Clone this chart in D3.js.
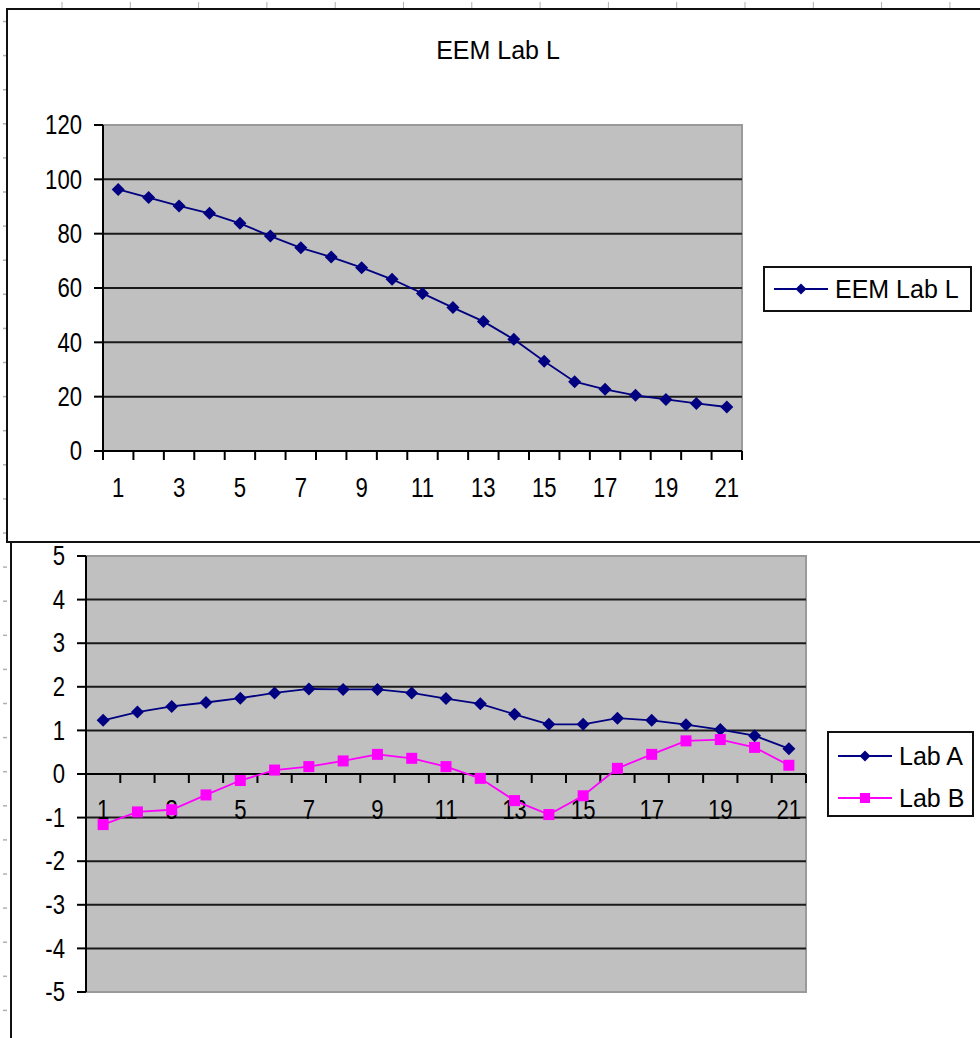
<!DOCTYPE html>
<html>
<head>
<meta charset="utf-8">
<script src="https://cdn.jsdelivr.net/npm/d3@7"></script>
<style>
  body { margin: 0; background: #fff; }
  svg { display: block; }
  text { font-family: "Liberation Sans", Arial, sans-serif; fill: #000; }
</style>
</head>
<body>
<svg id="chart" width="980" height="1038"></svg>
<script>
// --- data ---
const categories = [1, 2, 3, 4, 5, 6, 7, 8, 9, 10, 11, 12, 13, 14, 15, 16, 17, 18, 19, 20, 21];
const xTickLabels = [1, 3, 5, 7, 9, 11, 13, 15, 17, 19, 21];
const eemLabL = [96.3, 93.3, 90.2, 87.5, 83.8, 79.1, 74.8, 71.4, 67.5, 63.2, 58.0, 52.8, 47.7, 41.1, 33.0, 25.5, 22.7, 20.5, 19.0, 17.5, 16.2];
const labA = [1.23, 1.42, 1.55, 1.64, 1.74, 1.86, 1.95, 1.94, 1.94, 1.86, 1.73, 1.61, 1.37, 1.14, 1.14, 1.28, 1.23, 1.13, 1.02, 0.88, 0.58];
const labB = [-1.16, -0.87, -0.82, -0.48, -0.15, 0.09, 0.17, 0.30, 0.45, 0.36, 0.17, -0.10, -0.61, -0.93, -0.50, 0.13, 0.45, 0.76, 0.79, 0.61, 0.20];
const yTicksL = [0, 20, 40, 60, 80, 100, 120];
const yTicksAB = [-5, -4, -3, -2, -1, 0, 1, 2, 3, 4, 5];

const NAVY = "#000080";
const PINK = "#ff00ff";
const svg = d3.select("#chart");

// --- sheet frame (spreadsheet look) ---
const frame = svg.append("g");
// small grey row / column marks along the edges
d3.range(62, 980, 68.3).forEach(x => {
    frame.append("line").attr("x1", x).attr("x2", x).attr("y1", 2).attr("y2", 8)
        .attr("stroke", "#b0b0b0").attr("stroke-width", 1);
});
d3.range(21.5, 1038, 34.1).forEach(y => {
    frame.append("line").attr("x1", 3).attr("x2", 7).attr("y1", y).attr("y2", y)
        .attr("stroke", "#b0b0b0").attr("stroke-width", 1.5);
});
// top chart border
frame.append("path").attr("d", "M981,9 H7 V542 H981")
    .attr("fill", "none").attr("stroke", "#111").attr("stroke-width", 2);
// bottom chart left edge
frame.append("line").attr("x1", 11).attr("x2", 11).attr("y1", 542).attr("y2", 1038)
    .attr("stroke", "#111").attr("stroke-width", 2);

function marker(g, type, cx, cy, r, color) {
    if (type === "diamond") {
        g.append("path")
            .attr("d", `M${cx},${cy - r} L${cx + r},${cy} L${cx},${cy + r} L${cx - r},${cy} Z`)
            .attr("fill", color);
    } else {
        g.append("rect").attr("x", cx - r).attr("y", cy - r)
            .attr("width", 2 * r).attr("height", 2 * r).attr("fill", color);
    }
}

function condensedText(g, x, y, txt, size, anchor, sx) {
    g.append("text")
        .attr("transform", `translate(${x},${y}) scale(${sx},1)`)
        .attr("text-anchor", anchor)
        .attr("dominant-baseline", "central")
        .style("font-size", size + "px")
        .text(txt);
}

// --- one panel ---
function drawPanel(cfg) {
    const g = svg.append("g");
    const x = d3.scaleBand().domain(categories).range([cfg.left, cfg.right]);
    const y = d3.scaleLinear().domain(cfg.yDomain).range([cfg.bottom, cfg.top]);
    const bw = x.bandwidth();
    const cx = d => x(d) + bw / 2;
    const y0 = y(cfg.axisAt);

    // plot area
    g.append("rect")
        .attr("x", cfg.left).attr("y", cfg.top)
        .attr("width", cfg.right - cfg.left).attr("height", cfg.bottom - cfg.top)
        .attr("fill", "#c0c0c0").attr("stroke", "#9a9a9a").attr("stroke-width", 2);

    // gridlines (not on top / bottom edge)
    cfg.yTicks.filter(t => t !== cfg.yDomain[0] && t !== cfg.yDomain[1]).forEach(t => {
        g.append("line").attr("x1", cfg.left).attr("x2", cfg.right)
            .attr("y1", y(t)).attr("y2", y(t))
            .attr("stroke", "#1a1a1a").attr("stroke-width", 2);
    });

    // value axis
    g.append("line").attr("x1", cfg.left).attr("x2", cfg.left)
        .attr("y1", cfg.top).attr("y2", cfg.bottom)
        .attr("stroke", "#000").attr("stroke-width", 2);
    cfg.yTicks.forEach(t => {
        g.append("line").attr("x1", cfg.left - 9).attr("x2", cfg.left)
            .attr("y1", y(t)).attr("y2", y(t))
            .attr("stroke", "#000").attr("stroke-width", 2);
        condensedText(g, cfg.left - 21, y(t), t, 27, "end", 0.82);
    });

    // category axis
    g.append("line").attr("x1", cfg.left).attr("x2", cfg.right)
        .attr("y1", y0).attr("y2", y0)
        .attr("stroke", "#000").attr("stroke-width", 2);
    d3.range(categories.length + 1).forEach(i => {
        const xt = cfg.left + i * bw;
        g.append("line").attr("x1", xt).attr("x2", xt)
            .attr("y1", y0).attr("y2", y0 + 9)
            .attr("stroke", "#000").attr("stroke-width", 2);
    });
    xTickLabels.forEach(c => {
        condensedText(g, cx(c), y0 + cfg.labelOffset, c, 27, "middle", 0.82);
    });

    // series
    cfg.series.forEach(s => {
        const line = d3.line().x((d, i) => cx(categories[i])).y(d => y(d));
        g.append("path").datum(s.values).attr("d", line)
            .attr("fill", "none").attr("stroke", s.color).attr("stroke-width", 1.8);
        s.values.forEach((v, i) => {
            marker(g, s.marker, cx(categories[i]), y(v), s.marker === "diamond" ? 6.5 : 5.5, s.color);
        });
    });

    // legend
    const L = cfg.legend;
    g.append("rect").attr("x", L.x).attr("y", L.y).attr("width", L.w).attr("height", L.h)
        .attr("fill", "#fff").attr("stroke", "#111").attr("stroke-width", 2);
    cfg.series.forEach((s, i) => {
        const ly = L.y + L.first + i * L.step;
        g.append("line").attr("x1", L.x + 10).attr("x2", L.x + 64)
            .attr("y1", ly).attr("y2", ly)
            .attr("stroke", s.color).attr("stroke-width", 1.8);
        marker(g, s.marker, L.x + 37, ly, s.marker === "diamond" ? 5.5 : 5, s.color);
        g.append("text").attr("x", L.x + 71).attr("y", ly)
            .attr("dominant-baseline", "central")
            .style("font-size", "25px").text(s.name);
    });
}

// title
svg.append("text").attr("x", 498).attr("y", 50)
    .attr("text-anchor", "middle").attr("dominant-baseline", "central")
    .style("font-size", "25px").text("EEM Lab L");

drawPanel({
    left: 103, right: 742, top: 125, bottom: 451,
    yDomain: [0, 120], yTicks: yTicksL, axisAt: 0, labelOffset: 37,
    series: [{ name: "EEM Lab L", values: eemLabL, color: NAVY, marker: "diamond" }],
    legend: { x: 764, y: 267, w: 207, h: 44, first: 22, step: 0 }
});

drawPanel({
    left: 86, right: 806, top: 556, bottom: 992,
    yDomain: [-5, 5], yTicks: yTicksAB, axisAt: 0, labelOffset: 36,
    series: [
        { name: "Lab A", values: labA, color: NAVY, marker: "diamond" },
        { name: "Lab B", values: labB, color: PINK, marker: "square" }
    ],
    legend: { x: 828, y: 732, w: 145, h: 84, first: 24, step: 42 }
});
</script>
</body>
</html>
